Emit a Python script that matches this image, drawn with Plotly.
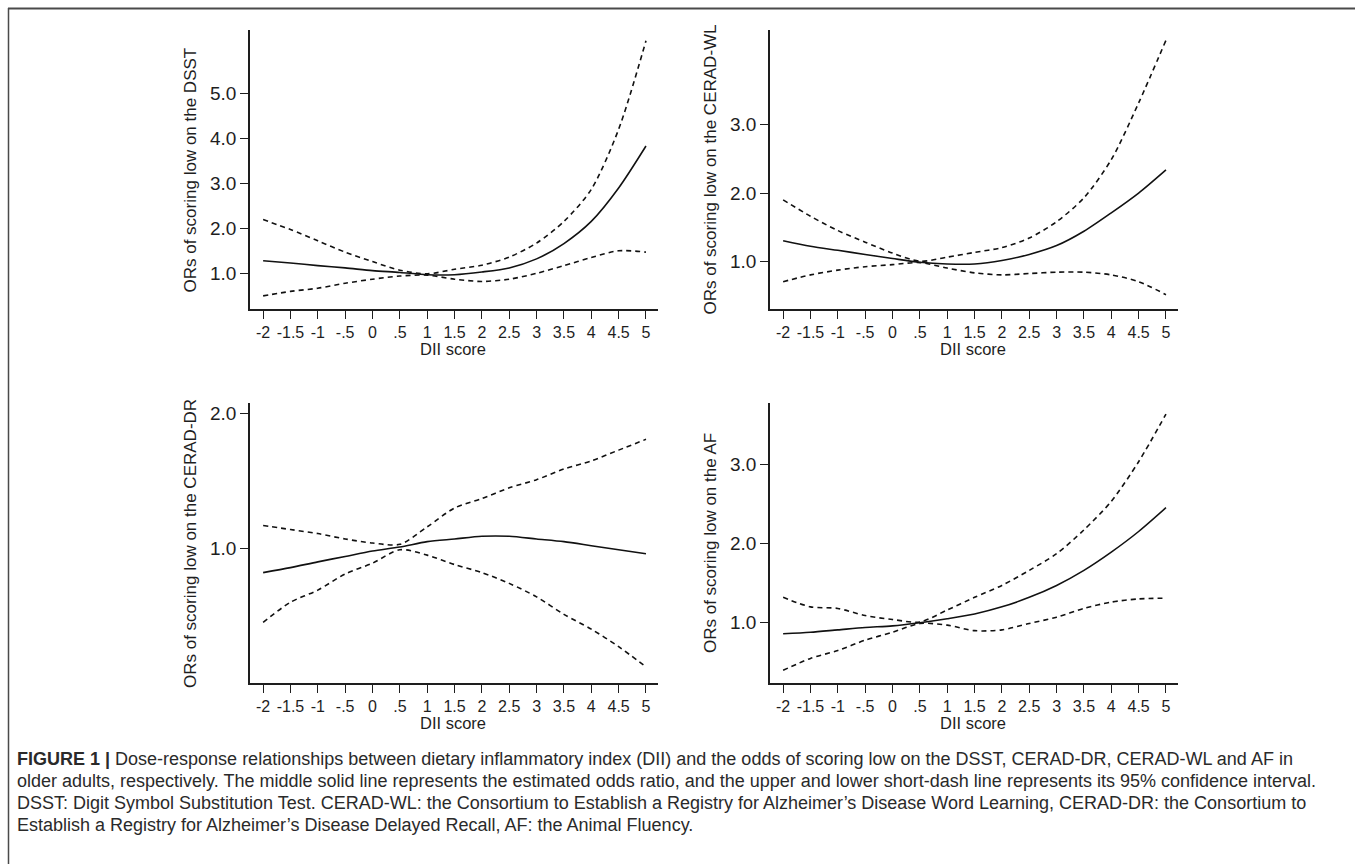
import plotly.graph_objects as go

# ---------------- data ----------------
dii = [-2, -1.5, -1, -0.5, 0, 0.5, 1, 1.5, 2, 2.5, 3, 3.5, 4, 4.5, 5]
x_tick_vals = [-2, -1.5, -1, -0.5, 0, 0.5, 1, 1.5, 2, 2.5, 3, 3.5, 4, 4.5, 5]
x_tick_text = ["-2", "-1.5", "-1", "-.5", "0", ".5", "1", "1.5", "2", "2.5", "3", "3.5", "4", "4.5", "5"]

dsst_or = [1.29, 1.24, 1.18, 1.13, 1.07, 1.03, 0.98, 0.98, 1.04, 1.13, 1.33, 1.67, 2.16, 2.90, 3.83]
dsst_ub = [2.20, 1.98, 1.73, 1.48, 1.27, 1.08, 1.00, 1.10, 1.19, 1.37, 1.68, 2.16, 2.87, 4.20, 6.16]
dsst_lb = [0.51, 0.61, 0.68, 0.79, 0.88, 0.95, 0.97, 0.88, 0.83, 0.88, 1.01, 1.18, 1.36, 1.51, 1.48]

wl_or = [1.30, 1.22, 1.16, 1.10, 1.04, 0.985, 0.96, 0.96, 1.01, 1.10, 1.23, 1.44, 1.71, 2.00, 2.34]
wl_ub = [1.90, 1.66, 1.45, 1.28, 1.12, 1.00, 1.06, 1.13, 1.20, 1.34, 1.58, 1.93, 2.49, 3.32, 4.24]
wl_lb = [0.70, 0.80, 0.87, 0.92, 0.95, 0.98, 0.90, 0.83, 0.80, 0.82, 0.84, 0.84, 0.80, 0.70, 0.51]

dr_or = [0.82, 0.857, 0.90, 0.94, 0.98, 1.01, 1.05, 1.07, 1.09, 1.09, 1.07, 1.05, 1.02, 0.99, 0.96]
dr_ub = [1.17, 1.14, 1.11, 1.07, 1.04, 1.03, 1.16, 1.30, 1.37, 1.45, 1.51, 1.59, 1.65, 1.73, 1.81]
dr_lb = [0.45, 0.60, 0.69, 0.81, 0.89, 0.99, 0.95, 0.88, 0.82, 0.74, 0.64, 0.51, 0.40, 0.27, 0.12]

af_or = [0.86, 0.88, 0.91, 0.94, 0.96, 1.00, 1.05, 1.11, 1.20, 1.32, 1.47, 1.66, 1.89, 2.15, 2.45]
af_ub = [1.32, 1.20, 1.18, 1.09, 1.04, 1.01, 1.16, 1.32, 1.47, 1.66, 1.87, 2.17, 2.53, 3.03, 3.63]
af_lb = [0.40, 0.55, 0.65, 0.78, 0.88, 0.99, 0.97, 0.90, 0.91, 0.99, 1.07, 1.18, 1.26, 1.30, 1.31]

y_titles = ["ORs of scoring low on the DSST", "ORs of scoring low on the CERAD-WL",
            "ORs of scoring low on the CERAD-DR", "ORs of scoring low on the AF"]
y_tick_vals = [[1, 2, 3, 4, 5], [1, 2, 3], [1, 2], [1, 2, 3]]
y_tick_text = [["1.0", "2.0", "3.0", "4.0", "5.0"], ["1.0", "2.0", "3.0"], ["1.0", "2.0"], ["1.0", "2.0", "3.0"]]
x_title = "DII score"

caption_lines = [
    "<b>FIGURE 1 |</b> Dose-response relationships between dietary inflammatory index (DII) and the odds of scoring low on the DSST, CERAD-DR, CERAD-WL and AF in",
    "older adults, respectively. The middle solid line represents the estimated odds ratio, and the upper and lower short-dash line represents its 95% confidence interval.",
    "DSST: Digit Symbol Substitution Test. CERAD-WL: the Consortium to Establish a Registry for Alzheimer’s Disease Word Learning, CERAD-DR: the Consortium to",
    "Establish a Registry for Alzheimer’s Disease Delayed Recall, AF: the Animal Fluency.",
]

# ---------------- layout geometry (pixels) ----------------
W, H = 1355, 864
panels = [
    dict(x0=250, x1=658, y0=30, y1=309, yr=[0.22, 6.4], data=(dsst_or, dsst_ub, dsst_lb)),
    dict(x0=770, x1=1178, y0=30, y1=309, yr=[0.30, 4.39], data=(wl_or, wl_ub, wl_lb)),
    dict(x0=250, x1=658, y0=403, y1=683, yr=[0.0, 2.08], data=(dr_or, dr_ub, dr_lb)),
    dict(x0=770, x1=1178, y0=403, y1=683, yr=[0.24, 3.77], data=(af_or, af_ub, af_lb)),
]

def px(x):
    return x / W

def py(y):
    return 1 - y / H

INK = "#1e1e1e"
TICKFONT = "Liberation Sans, Arial, sans-serif"

fig = go.Figure()
layout = dict(width=W, height=H, autosize=False, margin=dict(l=0, r=0, t=0, b=0),
              paper_bgcolor="white", plot_bgcolor="white", showlegend=False)
annotations = []
shapes = []

for i, p in enumerate(panels):
    n = "" if i == 0 else str(i + 1)
    xa, ya = "x" + n, "y" + n
    est, ub, lb = p["data"]
    for series, dash in ((ub, "5px,4px"), (lb, "5px,4px"), (est, "solid")):
        fig.add_trace(go.Scatter(x=dii, y=series, xaxis=xa, yaxis=ya, mode="lines",
                                 line=dict(color="#111111", width=1.6, dash=dash, shape="spline", smoothing=0.8),
                                 hoverinfo="skip"))
    layout["xaxis" + n] = dict(domain=[px(p["x0"]), px(p["x1"])], anchor=ya, range=[-2.24, 5.22],
                               showline=True, linecolor=INK, linewidth=1.5, showgrid=False, zeroline=False,
                               ticks="outside", ticklen=8, tickwidth=1.3, tickcolor=INK,
                               tickvals=x_tick_vals, ticktext=x_tick_text,
                               tickfont=dict(family=TICKFONT, size=16, color=INK))
    layout["yaxis" + n] = dict(domain=[py(p["y1"]), py(p["y0"])], anchor=xa, range=p["yr"],
                               showline=True, linecolor=INK, linewidth=1.5, showgrid=False, zeroline=False,
                               ticks="outside", ticklen=8, tickwidth=1.3, tickcolor=INK,
                               tickvals=y_tick_vals[i], ticktext=y_tick_text[i],
                               tickfont=dict(family=TICKFONT, size=19, color=INK))
    # y title
    annotations.append(dict(xref="paper", yref="paper", x=px(p["x0"] - 60), y=py((p["y0"] + p["y1"]) / 2 + 0),
                            text=y_titles[i], textangle=-90, showarrow=False,
                            xanchor="center", yanchor="middle",
                            font=dict(family=TICKFONT, size=17, color=INK)))
    # x title
    annotations.append(dict(xref="paper", yref="paper", x=px(453 if i % 2 == 0 else 973), y=py(p["y1"] + 40),
                            text=x_title, showarrow=False, xanchor="center", yanchor="middle",
                            font=dict(family=TICKFONT, size=16.5, color=INK)))

# caption
cap_y = [759, 781, 803, 825]
for line, yy in zip(caption_lines, cap_y):
    annotations.append(dict(xref="paper", yref="paper", x=px(15), y=py(yy), text=line,
                            showarrow=False, xanchor="left", yanchor="middle", align="left",
                            font=dict(family="Liberation Sans, Arial, sans-serif", size=18, color="#2a2a2a")))

# frame (top and left borders)
shapes.append(dict(type="line", xref="paper", yref="paper", x0=px(8), x1=1, y0=py(8.5), y1=py(8.5),
                   line=dict(color="#4a4a4a", width=2)))
shapes.append(dict(type="line", xref="paper", yref="paper", x0=px(8.5), x1=px(8.5), y0=py(8), y1=0,
                   line=dict(color="#4a4a4a", width=1.5)))

layout["annotations"] = annotations
layout["shapes"] = shapes
fig.update_layout(**layout)
fig.write_html("out.html", config={"displayModeBar": False},
               post_script="document.body.style.margin='0';document.body.style.overflow='hidden';")
